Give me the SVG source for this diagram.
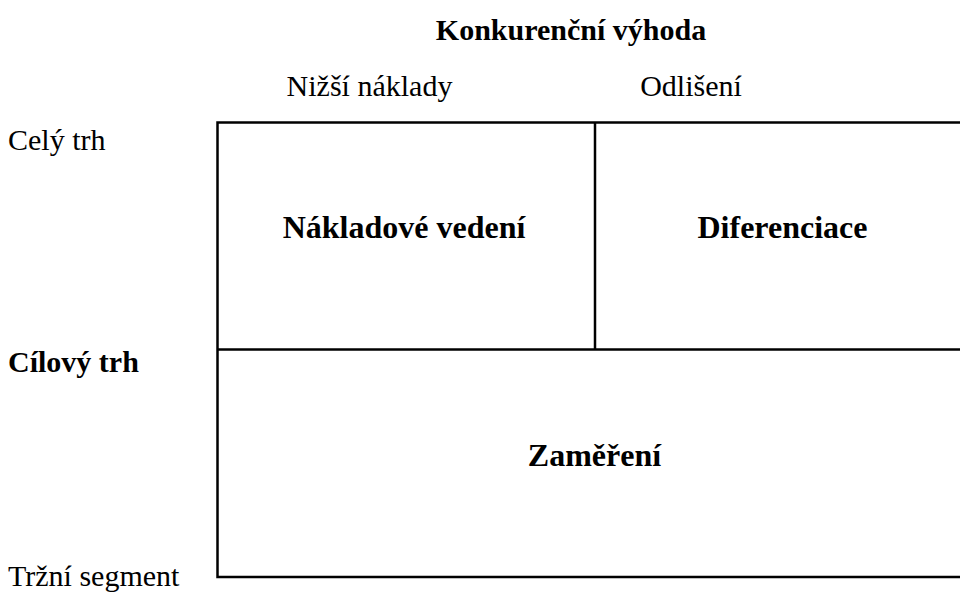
<svg xmlns="http://www.w3.org/2000/svg" width="960" height="597" viewBox="0 0 960 597">
<style>
text{font-family:'Liberation Serif','DejaVu Serif',serif;fill:#000}
.r{font-size:30px}
.b{font-size:30px;font-weight:bold}
.bl{font-size:32px;font-weight:bold}
.ln{stroke:#000;stroke-width:2.5;fill:none}
</style>
<rect width="960" height="597" fill="#fff"/>
<g id="axis-labels">
<text class="b" x="571" y="40" text-anchor="middle">Konkurenční výhoda</text>
<text class="r" x="369.5" y="96" text-anchor="middle">Nižší náklady</text>
<text class="r" x="691" y="96" text-anchor="middle">Odlišení</text>
<text class="r" x="8" y="150">Celý trh</text>
<text class="b" x="8" y="372">Cílový trh</text>
<text class="r" x="8" y="586">Tržní segment</text>
</g>
<g id="connectors">
<path class="ln" d="M961 122.5 H217.5 V577 H961"/>
<path class="ln" d="M595 122.5 V349.5"/>
<path class="ln" d="M217.5 349.5 H961"/>
</g>
<g id="cost-leadership">
<text class="bl" x="404" y="238" text-anchor="middle">Nákladové vedení</text>
</g>
<g id="differentiation">
<text class="bl" x="782.5" y="238" text-anchor="middle">Diferenciace</text>
</g>
<g id="focus">
<text class="bl" x="594.5" y="466" text-anchor="middle">Zaměření</text>
</g>
</svg>
